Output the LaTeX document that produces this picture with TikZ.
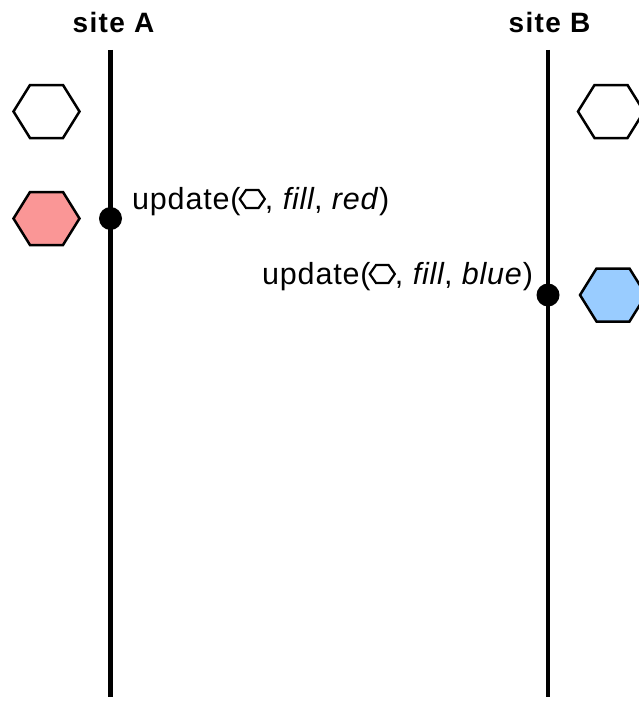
\documentclass[tikz,border=0pt]{standalone}
\usepackage{fontspec}
\setmainfont{Liberation Sans}
\newfontfamily\sitefont{Liberation Sans}[LetterSpace=5]
\newfontfamily\msgfont{Liberation Sans}[LetterSpace=2.7]
\begin{document}
\begin{tikzpicture}[x=1pt,y=-1pt,
  timeline/.style={line width=4.5pt},
  event/.style={circle,fill=black,inner sep=0pt,minimum size=23pt},
  site/.style={font=\sitefont\fontsize{28}{32}\selectfont\bfseries,inner sep=0pt,anchor=base},
  msg/.style={font=\msgfont\fontsize{30.5}{35}\selectfont,inner sep=0pt,anchor=base west},
  hexa/.pic={\draw[pic actions] (-33,0) -- (-16.5,-26.5) -- (16.5,-26.5) -- (33,0) -- (16.5,26.5) -- (-16.5,26.5) -- cycle;},
  bighex/.style={line width=2.5pt,line join=miter},
  smallhex/.style={line width=2.2pt,xscale=0.38,yscale=0.34},
]
\definecolor{hexred}{RGB}{250,150,150}
\definecolor{hexblue}{RGB}{153,204,255}
\useasboundingbox (0,0) rectangle (639,701);

% site headers and their timelines
\node[site] (siteA) at (113.5,32.3) {site A};
\node[site] (siteB) at (549.5,32.3) {site B};
\coordinate (a0) at (110.5,50);
\coordinate (a1) at (110.5,697);
\coordinate (b0) at (548,50);
\coordinate (b1) at (548,697);
\draw[timeline] (a0) -- (a1);
\draw[timeline] (b0) -- (b1);

% update events
\node[event] (evA) at (110.5,218.5) {};
\node[event] (evB) at (548,295) {};

% object states
\pic[bighex,fill=white] at (46.5,111.5) {hexa};
\pic[bighex,fill=hexred] at (46.5,218.5) {hexa};
\pic[bighex,fill=white] at (611,111.5) {hexa};
\pic[bighex,fill=hexblue] at (613,295) {hexa};

% update labels
\node[msg] (uA) at (132,209) {update(};
\pic[smallhex] at ([xshift=11.5pt,yshift=10pt]uA.base east) {hexa};
\node[msg] (rA) at ([xshift=24pt]uA.base east) {, \textit{fill}, \textit{red})};

\node[msg] (uB) at (262,284) {update(};
\pic[smallhex] at ([xshift=11.5pt,yshift=10pt]uB.base east) {hexa};
\node[msg] (rB) at ([xshift=24pt]uB.base east) {, \textit{fill}, \textit{blue})};
\end{tikzpicture}
\end{document}
